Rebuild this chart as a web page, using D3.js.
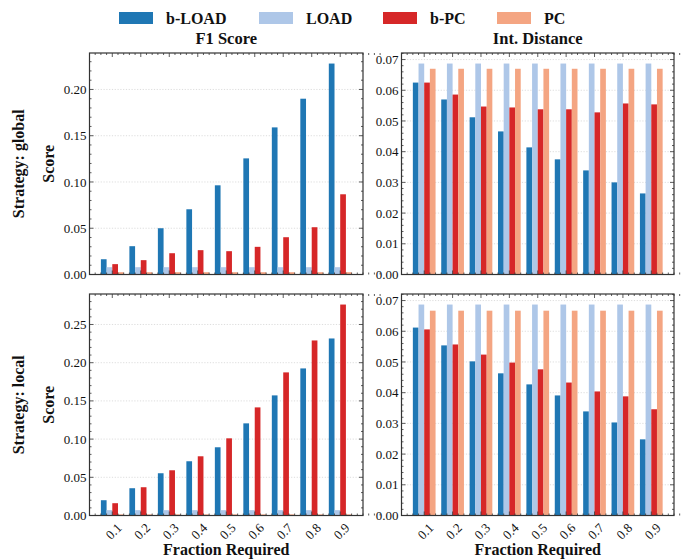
<!DOCTYPE html>
<html>
<head>
<meta charset="utf-8">
<script src="https://cdn.jsdelivr.net/npm/d3@7"></script>
<style>
  body { margin: 0; background: #fff; }
</style>
</head>
<body>
<div id="chart"></div>
<script>
// categories and series
const fractions = ['0.1', '0.2', '0.3', '0.4', '0.5', '0.6', '0.7', '0.8', '0.9']
const seriesNames = ['b-LOAD', 'LOAD', 'b-PC', 'PC']
const seriesColors = ['#1f77b4', '#aec7e8', '#d62728', '#f4a582']
const metricTitles = ['F1 Score', 'Int. Distance']
const strategyLabels = ['Strategy: global', 'Strategy: local']

// strategy: global, F1 score
const globalF1BLoad = [0.0165, 0.0306, 0.0500, 0.0705, 0.0964, 0.1255, 0.1590, 0.1900, 0.2280]
const globalF1Load = [0.0079, 0.0079, 0.0079, 0.0079, 0.0079, 0.0079, 0.0079, 0.0079, 0.0079]
const globalF1BPC = [0.0112, 0.0155, 0.0230, 0.0263, 0.0252, 0.0299, 0.0403, 0.0511, 0.0867]
const globalF1PC = [0.0025, 0.0025, 0.0025, 0.0025, 0.0025, 0.0025, 0.0025, 0.0025, 0.0025]

// strategy: global, int. distance
const globalDistBLoad = [0.0625, 0.0570, 0.0512, 0.0466, 0.0414, 0.0375, 0.0339, 0.0300, 0.0264]
const globalDistLoad = [0.0687, 0.0687, 0.0687, 0.0687, 0.0687, 0.0687, 0.0687, 0.0687, 0.0687]
const globalDistBPC = [0.0625, 0.0586, 0.0547, 0.0544, 0.0538, 0.0538, 0.0528, 0.0557, 0.0554]
const globalDistPC = [0.0670, 0.0670, 0.0670, 0.0670, 0.0670, 0.0670, 0.0670, 0.0670, 0.0670]

// strategy: local, F1 score
const localF1BLoad = [0.0200, 0.0357, 0.0553, 0.0710, 0.0893, 0.1206, 0.1572, 0.1925, 0.2317]
const localF1Load = [0.0070, 0.0070, 0.0070, 0.0070, 0.0070, 0.0070, 0.0070, 0.0070, 0.0070]
const localF1BPC = [0.0161, 0.0370, 0.0592, 0.0775, 0.1010, 0.1415, 0.1873, 0.2291, 0.2761]
const localF1PC = [0.0015, 0.0015, 0.0015, 0.0015, 0.0015, 0.0015, 0.0015, 0.0015, 0.0015]

// strategy: local, int. distance
const localDistBLoad = [0.0612, 0.0554, 0.0502, 0.0463, 0.0427, 0.0391, 0.0339, 0.0303, 0.0248]
const localDistLoad = [0.0687, 0.0687, 0.0687, 0.0687, 0.0687, 0.0687, 0.0687, 0.0687, 0.0687]
const localDistBPC = [0.0606, 0.0557, 0.0524, 0.0498, 0.0476, 0.0433, 0.0404, 0.0388, 0.0346]
const localDistPC = [0.0667, 0.0667, 0.0667, 0.0667, 0.0667, 0.0667, 0.0667, 0.0667, 0.0667]

const yTickStep = [0.05, 0.01]

const panels = [
	{ row: 0, col: 0, series: [globalF1BLoad, globalF1Load, globalF1BPC, globalF1PC] },
	{ row: 0, col: 1, series: [globalDistBLoad, globalDistLoad, globalDistBPC, globalDistPC] },
	{ row: 1, col: 0, series: [localF1BLoad, localF1Load, localF1BPC, localF1PC] },
	{ row: 1, col: 1, series: [localDistBLoad, localDistLoad, localDistBPC, localDistPC] },
]

const width = 684
const height = 559
const colBounds = [[89.5, 363], [401.5, 674]]
const rowBounds = [[53, 274.5], [294, 515.5]]
const frameColor = '#333'
const serif = 'Liberation Serif'

const svg = d3.select('#chart')
	.append('svg')
	.attr('width', width)
	.attr('height', height)

// small helper so every label gets the serif face
const addText = (parent, str, size, bold) => parent.append('text')
	.attr('font-family', serif)
	.attr('font-size', size)
	.attr('font-weight', bold ? 'bold' : 'normal')
	.attr('fill', '#111')
	.text(str)

// legend
const legendX = [119, 259, 383, 497]
const legend = svg.append('g').attr('class', 'legend')
seriesNames.forEach((name, i) => {
	const g = legend.append('g').attr('transform', `translate(${legendX[i]},12)`)
	g.append('rect').attr('width', 34).attr('height', 12).attr('fill', seriesColors[i])
	addText(g, name, 16, true).attr('x', 47).attr('y', 12)
})

// column titles
metricTitles.forEach((t, c) => {
	addText(svg, t, 16.5, true)
		.attr('x', (colBounds[c][0] + colBounds[c][1]) / 2)
		.attr('y', 43.5)
		.attr('text-anchor', 'middle')
})

// row labels
strategyLabels.forEach((t, r) => {
	const cy = (rowBounds[r][0] + rowBounds[r][1]) / 2
	addText(svg, t, 16, true)
		.attr('transform', `translate(24,${cy}) rotate(-90)`)
		.attr('text-anchor', 'middle')
	addText(svg, 'Score', 16, true)
		.attr('transform', `translate(54,${cy}) rotate(-90)`)
		.attr('text-anchor', 'middle')
})

// x labels
colBounds.forEach(([x0, x1]) => {
	addText(svg, 'Fraction Required', 16, true)
		.attr('x', (x0 + x1) / 2)
		.attr('y', 555)
		.attr('text-anchor', 'middle')
})

panels.forEach(p => {
	const [x0, x1] = colBounds[p.col]
	const [y0, y1] = rowBounds[p.row]

	const x = d3.scaleLinear().domain([-0.8, fractions.length - 1 + 0.8]).range([x0, x1])
	const maxVal = d3.max(p.series.flat())
	const y = d3.scaleLinear().domain([0, maxVal * 1.05]).range([y1, y0])

	const g = svg.append('g').attr('class', 'panel')
	const step = yTickStep[p.col]
	const majors = d3.range(0, y.domain()[1] + 1e-9, step)
	const minors = d3.range(0, y.domain()[1] + 1e-9, step / 5)

	// grid
	g.selectAll('.grid')
		.data(majors.slice(1))
		.join('line')
		.attr('x1', x0).attr('x2', x1)
		.attr('y1', d => y(d)).attr('y2', d => y(d))
		.attr('stroke', '#d4d4d4')
		.attr('stroke-width', 0.8)
		.attr('stroke-dasharray', '1.2,1.6')

	// bars
	const bw = 0.2
	p.series.forEach((vals, s) => {
		g.selectAll(null)
			.data(vals)
			.join('rect')
			.attr('x', (d, i) => x(i + (s - 1.5) * bw - bw / 2))
			.attr('width', x(bw) - x(0))
			.attr('y', d => y(d))
			.attr('height', d => y(0) - y(d))
			.attr('fill', seriesColors[s])
	})

	// y ticks (inward, both sides)
	const tickG = g.append('g').attr('stroke', frameColor).attr('stroke-width', 0.8)
	minors.forEach(v => {
		const len = majors.some(m => Math.abs(m - v) < 1e-9) ? 4 : 2
		tickG.append('line').attr('x1', x0).attr('x2', x0 + len).attr('y1', y(v)).attr('y2', y(v))
		tickG.append('line').attr('x1', x1).attr('x2', x1 - len).attr('y1', y(v)).attr('y2', y(v))
	})
	// x ticks (inward, top and bottom)
	d3.range(-4, fractions.length * 5 - 1 + 4).forEach(k => {
		const v = k / 5
		const len = k % 5 === 0 && k >= 0 && k < fractions.length * 5 ? 4 : 2
		tickG.append('line').attr('x1', x(v)).attr('x2', x(v)).attr('y1', y1).attr('y2', y1 - len)
		tickG.append('line').attr('x1', x(v)).attr('x2', x(v)).attr('y1', y0).attr('y2', y0 + len)
	})

	// y tick labels
	majors.forEach(v => {
		addText(g, d3.format('.2f')(v), 13, false)
			.attr('x', x0 - 3)
			.attr('y', y(v))
			.attr('dy', '0.35em')
			.attr('text-anchor', 'end')
	})

	// x tick labels (bottom row only)
	if (p.row === 1) {
		fractions.forEach((f, i) => {
			addText(g, f, 13, false)
				.attr('transform', `translate(${x(i) + 7},${y1 + 10}) rotate(-45)`)
				.attr('text-anchor', 'end')
				.attr('dy', '0.35em')
		})
	}

	// frame
	g.append('rect')
		.attr('x', x0).attr('y', y0)
		.attr('width', x1 - x0).attr('height', y1 - y0)
		.attr('fill', 'none')
		.attr('stroke', frameColor)
		.attr('stroke-width', 1.2)
})
</script>
</body>
</html>
